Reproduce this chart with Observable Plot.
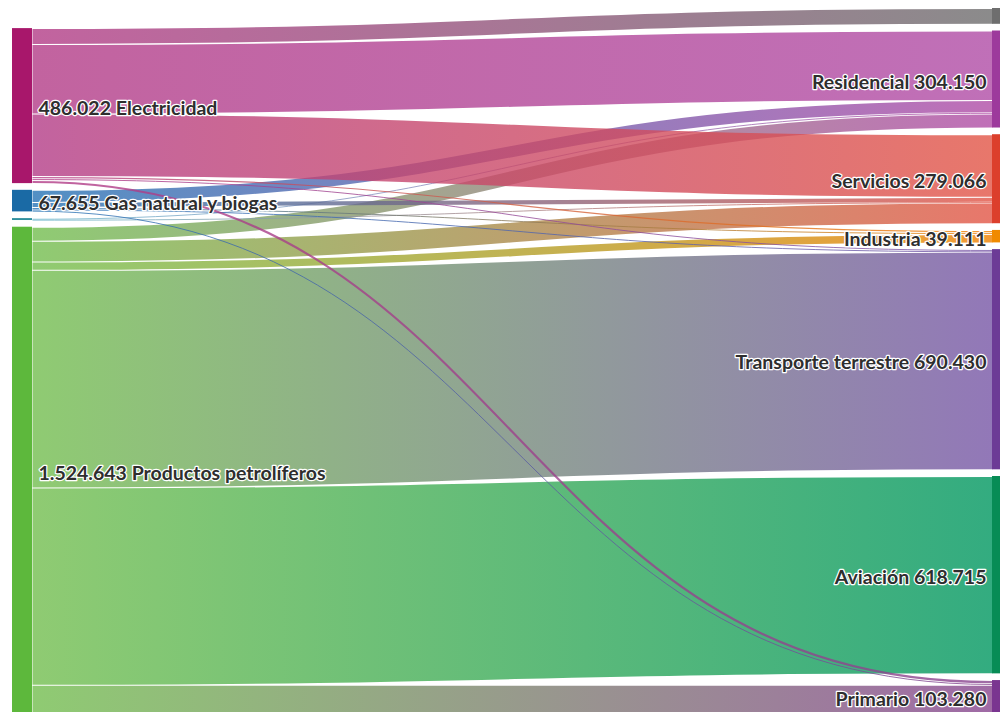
<!DOCTYPE html>
<html>
<head>
<meta charset="utf-8">
<script src="https://cdn.jsdelivr.net/npm/d3@7"></script>
<script src="https://cdn.jsdelivr.net/npm/@observablehq/plot@0.6"></script>
<style>
  html, body { margin: 0; padding: 0; background: #fff; }
  #chart { width: 1000px; height: 712px; overflow: hidden; }
  #chart svg text { paint-order: stroke; }
</style>
</head>
<body>
<div id="chart"></div>
<script>
// ---- Data (values in the chart's units) ----
const sources = ["Electricidad", "Gas natural y biogas", "Otras fuentes", "Productos petrolíferos"];
const sourceLabeled = [true, true, false, true];
const sourceColors = ["#a8176b", "#1a6aa5", "#2f8f9d", "#5db83c"];
const sourceLinkColors = ["#b33c87", "#2774b5", "#6fb8cc", "#73be4f"];

const targets = ["Otros usos", "Residencial", "Servicios", "Industria", "Transporte terrestre", "Aviación", "Primario"];
const targetLabeled = [false, true, true, true, true, true, true];
const targetColors = ["#6e6e6e", "#9d3a9c", "#dc3f2c", "#f08a00", "#6c3b96", "#078c55", "#7a3590"];
const targetLinkColors = ["#6e6e6e", "#b04ca6", "#e25546", "#ef8100", "#7756a6", "#009760", "#88458f"];

// links: source index, target index, value
const linkSource = [0, 0, 0, 0, 0, 0,   1, 1, 1, 1, 1,   2, 2,   3, 3, 3, 3, 3, 3];
const linkTarget = [0, 1, 2, 3, 4, 6,   1, 2, 3, 4, 6,   1, 2,   1, 2, 3, 4, 5, 6];
const linkValue  = [49568, 218000, 196000, 7000, 5454, 10000,
                    38000, 16000, 6000, 3000, 4655,
                    4000, 2000,
                    44150, 65066, 26111, 681976, 618715, 88625];

// ---- Sankey layout (computed, two columns) ----
const nodes = [
  ...sources.map((name, i) => ({name, idx: i, col: 0, color: sourceColors[i], linkColor: sourceLinkColors[i], labeled: sourceLabeled[i]})),
  ...targets.map((name, i) => ({name, idx: i, col: 1, color: targetColors[i], linkColor: targetLinkColors[i], labeled: targetLabeled[i]}))
];
const links = linkValue.map((value, i) => ({
  source: nodes[linkSource[i]],
  target: nodes[sources.length + linkTarget[i]],
  value
}));
nodes.forEach(n => {
  n.out = links.filter(l => l.source === n);
  n.in = links.filter(l => l.target === n);
  n.value = Math.max(d3.sum(n.out, l => l.value), d3.sum(n.in, l => l.value));
});

const padPx = 6.7;
const rangePx = [8, 713];
const R = rangePx[1] - rangePx[0];
const cols = [0, 1].map(c => nodes.filter(n => n.col === c));
const T = d3.max(cols, col => d3.sum(col, n => n.value));
const maxGaps = d3.max(cols, col => col.length - 1);
const extent = T / (1 - maxGaps * padPx / R);
const pad = padPx * extent / R;
const k = R / extent; // px per unit
cols.forEach(col => {
  const colExtent = d3.sum(col, n => n.value) + (col.length - 1) * pad;
  let y = extent - colExtent; // columns aligned at the bottom
  col.forEach(n => { n.y0 = y; n.y1 = y + n.value; y = n.y1 + pad; });
});
nodes.forEach(n => {
  let y = n.y0;
  n.out.sort((a, b) => a.target.y0 - b.target.y0).forEach(l => { l.sy = y + l.value / 2; y += l.value; });
  y = n.y0;
  n.in.sort((a, b) => a.source.y0 - b.source.y0).forEach(l => { l.ty = y + l.value / 2; y += l.value; });
});
// draw order: last source first, so the upper sources' links lie on top
const drawLinks = links.slice().sort((a, b) => b.source.idx - a.source.idx || b.value - a.value);

const fmt = d3.formatLocale({decimal: ",", thousands: ".", grouping: [3], currency: ["", " €"]}).format(",d");
const nw = 20 / 980; // node width in x units

const textStyle = {
  fontFamily: "Lato, 'Open Sans', sans-serif",
  fontSize: 19.5,
  fontWeight: "bold",
  fill: "#2e2e2e",
  stroke: "white",
  strokeWidth: 2.5,
  lineAnchor: "middle",
  dy: 3
};

const plot = Plot.plot({
  width: 1000,
  height: 712,
  margin: 0,
  x: {domain: [0, 1], range: [12, 992], axis: null},
  y: {domain: [0, extent], range: rangePx, axis: null},
  color: {type: "identity"},
  marks: [
    Plot.link(drawLinks, {
      x1: () => nw, x2: () => 1,
      y1: "sy", y2: "ty",
      curve: "bump-x",
      stroke: d => d.source.linkColor,
      strokeOpacity: 0.8,
      strokeWidth: d => Math.max(1, d.value * k - 1)
    }),
    Plot.rect(nodes, {
      x1: d => d.col === 0 ? 0 : 1,
      x2: d => (d.col === 0 ? 0 : 1) + nw,
      y1: "y0", y2: "y1",
      fill: "color"
    }),
    Plot.text(nodes.filter(n => n.labeled && n.col === 0), {
      x: () => nw, y: d => (d.y0 + d.y1) / 2,
      text: d => `${fmt(d.value)} ${d.name}`,
      textAnchor: "start", dx: 6,
      ...textStyle
    }),
    Plot.text(nodes.filter(n => n.labeled && n.col === 1), {
      x: () => 1, y: d => (d.y0 + d.y1) / 2,
      text: d => `${d.name} ${fmt(d.value)}`,
      textAnchor: "end", dx: -6,
      ...textStyle
    })
  ]
});

// gradients for links (source colour -> target colour)
const xs = plot.scale("x");
const svg = d3.select(plot);
const defs = svg.insert("defs", ":first-child");
drawLinks.forEach((l, i) => {
  const g = defs.append("linearGradient")
    .attr("id", `lg${i}`)
    .attr("gradientUnits", "userSpaceOnUse")
    .attr("x1", xs.apply(nw)).attr("x2", xs.apply(1))
    .attr("y1", 0).attr("y2", 0);
  g.append("stop").attr("offset", "0%").attr("stop-color", l.source.linkColor);
  g.append("stop").attr("offset", "100%").attr("stop-color", l.target.linkColor);
});
svg.select('g[aria-label="link"]').selectAll("path")
  .attr("stroke", (d, i) => `url(#lg${i})`);

document.getElementById("chart").appendChild(plot);
</script>
</body>
</html>
